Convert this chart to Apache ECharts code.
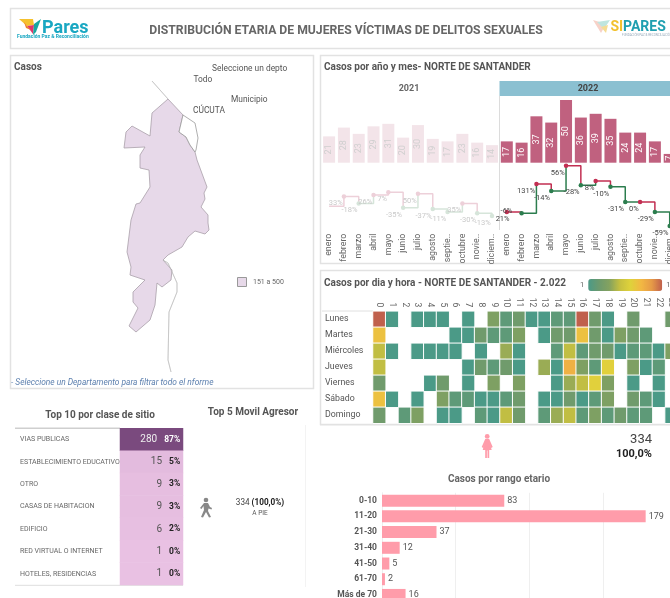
<!DOCTYPE html>
<html><head><meta charset="utf-8">
<style>html,body{margin:0;padding:0;background:#fff;overflow:hidden;width:670px;height:598px}#c{width:700px;height:598px}</style>
<script src="https://cdn.jsdelivr.net/npm/echarts@6/dist/echarts.min.js"></script>
</head><body><div id="c"></div>
<script>
const months = ['enero','febrero','marzo','abril','mayo','junio','julio','agosto','septie..','octubre','novie..','diciem..'];
const cases2021 = [21,28,23,29,31,20,30,19,17,23,16,14];
const cases2022 = [17,16,37,32,50,36,39,35,24,24,17,7];
const pct2021 = [null,33,-18,26,7,-35,50,-37,-11,35,-30,-13];
const pct2022 = [21,-6,131,-14,56,-28,8,-10,-31,0,-29,-59];
const days = ['Lunes','Martes','Miércoles','Jueves','Viernes','Sábado','Domingo'];
const hours = ['0','1','2','3','4','5','6','7','8','9','10','11','12','13','14','15','16','17','18','19','20','21','22','23'];
const heatLunes     = [13,1,0,1,1,1,0,1,0,4,2,3,1,1,2,2,13,3,1,0,3,0,0,3];
const heatMartes    = [9,0,0,0,0,0,1,1,3,2,2,4,0,1,3,3,9,3,1,4,3,2,0,0];
const heatMiercoles = [6,1,0,1,1,1,1,0,1,0,5,1,0,0,2,6,2,3,3,1,2,2,1,4];
const heatJueves    = [6,0,0,0,0,0,0,1,3,2,3,1,0,5,1,10,4,2,8,0,4,1,2,0];
const heatViernes   = [3,0,0,0,1,3,0,1,0,4,0,4,0,0,1,5,6,8,4,0,1,0,1,0];
const heatSabado    = [9,1,0,1,0,4,2,2,1,1,2,3,0,1,1,3,1,2,4,0,3,2,1,0];
const heatDomingo   = [3,0,2,4,0,1,1,0,2,1,6,3,0,2,5,6,2,4,2,3,2,2,0,1];
const sites = ['VIAS PUBLICAS','ESTABLECIMIENTO EDUCATIVO','OTRO','CASAS DE HABITACION','EDIFICIO','RED VIRTUAL O INTERNET','HOTELES, RESIDENCIAS'];
const siteCases = [280,15,9,9,6,1,1];
const sitePct = ['87%','5%','3%','3%','2%','0%','0%'];
const ageRanges = ['0-10','11-20','21-30','31-40','41-50','61-70','Más de 70'];
const ageCases = [83,179,37,12,5,2,16];
// Outline of the department (x, -y)
const deptOutline = [[168,99],[183,115],[179,132],[186,137],[190,145],[195,152],[197,160],[207,187],[204,193],[205,199],[201,207],[208,215],[208,223],[209,230],[205,234],[195,231],[188,237],[182,247],[168,255],[163,260],[172,270],[171,280],[162,287],[157,283],[155,305],[150,320],[136,332],[129,326],[138,308],[133,302],[133,292],[145,280],[130,275],[131,267],[127,252],[131,220],[136,204],[140,203],[150,187],[149,170],[140,168],[140,155],[145,147],[124,148],[126,132],[132,126],[150,136],[152,113]];
const cucutaOutline = [[183,115],[195,123],[198,138],[196,150],[195,152],[190,145],[186,137],[179,132]];
const northLine = [[152,81],[168,99]];
const southLine = [[163,260],[168,263],[177,283],[177,292],[169,312],[168,360],[171,372]];

const FONT = 'Roboto';
const neg = a => a.map(p => [p[0], -p[1]]);
const closed = a => neg(a.concat([a[0]]));
const thin = a => neg(a.concat(a.slice().reverse()));
echarts.registerMap('ns', {type:'FeatureCollection', features:[
  {type:'Feature',properties:{name:'Norte de Santander'},geometry:{type:'Polygon',coordinates:[closed(deptOutline)]}},
  {type:'Feature',properties:{name:'Cucuta'},geometry:{type:'Polygon',coordinates:[closed(cucutaOutline)]}},
  {type:'Feature',properties:{name:'N'},geometry:{type:'Polygon',coordinates:[thin(northLine)]}},
  {type:'Feature',properties:{name:'S'},geometry:{type:'Polygon',coordinates:[thin(southLine)]}}
]});

const chart = echarts.init(document.getElementById('c'));
const heatRows = [heatLunes,heatMartes,heatMiercoles,heatJueves,heatViernes,heatSabado,heatDomingo];
const heatData = [];
heatRows.forEach((r,y)=>r.forEach((v,x)=>{ if(v>0) heatData.push([x,y,v]); }));

const hiddenAxis = (gridIndex,extra)=>Object.assign({gridIndex,show:false},extra||{});
const txt = (x,y,text,o)=>({type:'text',x,y,silent:true,style:Object.assign({text,fontFamily:FONT,fontSize:10,fill:'#555',textVerticalAlign:'middle',textAlign:'left'},o||{})});
const box = (x,y,w,h)=>({type:'rect',silent:true,shape:{x:x+.5,y:y+.5,width:w,height:h},style:{fill:'none',stroke:'#e2e2e2',lineWidth:1.5}});
const poly = (pts,fill)=>({type:'polygon',silent:true,shape:{points:pts},style:{fill}});
const shift = (pts,dx,dy)=>pts.map(p=>[p[0]+dx,p[1]+dy]);
const hline = (x1,y1,x2,y2,stroke,lineWidth)=>({type:'line',silent:true,shape:{x1,y1,x2,y2},style:{stroke,lineWidth:lineWidth||1}});

const series = [];
// bars
[[cases2021,0,'#f3e4e9','#cfcfcf'],[cases2022,1,'#c0617f','#fff']].forEach(([vals,g,col,lab])=>{
  series.push({type:'bar',xAxisIndex:g,yAxisIndex:g,data:vals,barWidth:12,itemStyle:{color:col},silent:true,
    label:{show:true,position:'inside',rotate:90,color:lab,fontSize:9,fontFamily:FONT}});
});
// monthly step line: one piece per month, coloured by the sign of the change
[[cases2021,pct2021,2,'#edd0d9','#d6e5da','#c9c9c9'],[cases2022,pct2022,3,'#c22f52','#2c7d4e','#444']].forEach(([vals,pct,g,up,down,lab])=>{
  vals.forEach((v,i)=>{
    const color = (pct[i]===null||pct[i]>=0)?up:down;
    const pts = i<11?[[i,v],[i+1,vals[i+1]]]:[[i,v]];
    let off=[1,7];
    if(g===3&&i===0) off=[5,7];
    if(g===3&&i===1) off=[-7,-2];
    series.push({type:'line',xAxisIndex:g,yAxisIndex:g,step:'end',silent:true,animation:false,
      data:pts.map((p,k)=>k===0?{value:p,label:{show:pct[i]!==null,formatter:pct[i]+'%',position:'left',distance:0,offset:off,color:lab,fontSize:7.5,fontFamily:FONT}}:{value:p,symbolSize:0}),
      symbol:(pct[i]===null)?'none':'circle',symbolSize:4.5,showSymbol:true,
      itemStyle:{color},lineStyle:{color,width:1.5},z:i+2});
  });
});
// heat table
series.push({type:'heatmap',xAxisIndex:4,yAxisIndex:4,data:heatData,silent:true,itemStyle:{borderColor:'#fff',borderWidth:1},emphasis:{disabled:true}});
const heatIdx = series.length-1;
// site table
series.push({type:'heatmap',xAxisIndex:5,yAxisIndex:5,silent:true,emphasis:{disabled:true},
  data:siteCases.map((v,i)=>({value:[0,i,v],
    label:{show:true,position:'insideRight',distance:3,
      formatter:'{n|'+v+'}{p|'+sitePct[i]+'}',
      rich:{n:{fontFamily:FONT,fontSize:10,color:i===0?'#eee':'#555'},
            p:{fontFamily:FONT,fontSize:8.5,fontWeight:'bold',color:i===0?'#fff':'#222',padding:[0,0,0,7]}}}}))});
const siteIdx = series.length-1;
// age bars
series.push({type:'bar',xAxisIndex:6,yAxisIndex:6,data:ageCases,barWidth:12,silent:true,itemStyle:{color:'#ff9caa'},
  label:{show:true,position:'right',distance:3,color:'#555',fontSize:9,fontFamily:FONT}});
// map
series.push({type:'map',map:'ns',left:124,top:81,width:85,height:291,aspectScale:1,roam:false,silent:true,
  label:{show:false},emphasis:{disabled:true},select:{disabled:true},
  itemStyle:{areaColor:'#fff',borderColor:'#9a9a9a',borderWidth:.8},
  data:[{name:'Norte de Santander',value:300,itemStyle:{areaColor:'#e7d9e9',borderColor:'#a9a0a9'}},
        {name:'N',itemStyle:{borderColor:'#b5b5b5',borderWidth:.5}},
        {name:'S',itemStyle:{borderColor:'#b5b5b5',borderWidth:.5}}]});

const barW = 177.7;
const gridOf = (left,top,width,height)=>({left,top,width,height,outerBoundsMode:'none'});
const monthLabel = {rotate:90,margin:-2,fontSize:8.8,color:'#666',interval:0,fontFamily:FONT};
const option = {
  animation:false,
  textStyle:{fontFamily:FONT},
  grid:[
    gridOf(321.7,100,barW,62.7),
    gridOf(499.4,100,barW,62.7),
    gridOf(321.7,165.7,barW,70),
    gridOf(499.4,165.7,barW,70),
    gridOf(373,311.3,304.8,112),
    gridOf(120,428.3,63,156.7),
    gridOf(382,492.8,294.6,110)
  ],
  xAxis:[
    hiddenAxis(0,{type:'category',data:months}),
    hiddenAxis(1,{type:'category',data:months}),
    {gridIndex:2,type:'category',data:months,axisLine:{show:false},axisTick:{show:false},axisLabel:monthLabel},
    {gridIndex:3,type:'category',data:months,axisLine:{show:false},axisTick:{show:false},axisLabel:monthLabel},
    {gridIndex:4,type:'category',position:'top',data:hours,axisLine:{show:false},axisTick:{show:false},splitLine:{show:false},axisLabel:{rotate:90,margin:4,fontSize:8.5,color:'#666',interval:0,fontFamily:FONT}},
    hiddenAxis(5,{type:'category',data:['casos']}),
    {gridIndex:6,type:'value',min:0,max:200,interval:50,axisLabel:{show:false},axisLine:{show:false},axisTick:{show:false},splitLine:{lineStyle:{color:'#efefef'}}}
  ],
  yAxis:[
    hiddenAxis(0,{type:'value',min:0,max:50}),
    hiddenAxis(1,{type:'value',min:0,max:50}),
    hiddenAxis(2,{type:'value',min:0,max:50}),
    hiddenAxis(3,{type:'value',min:0,max:50}),
    {gridIndex:4,type:'category',inverse:true,data:days,axisLine:{show:false},axisTick:{show:false},splitLine:{show:false},axisLabel:{align:'left',margin:48,fontSize:8.8,color:'#555',fontFamily:FONT}},
    {gridIndex:5,type:'category',inverse:true,data:sites,axisLine:{show:false},axisTick:{show:false},splitLine:{show:false},axisLabel:{align:'left',margin:100,fontSize:7,color:'#666',fontFamily:FONT,interval:0}},
    {gridIndex:6,type:'category',inverse:true,data:ageRanges,axisLine:{lineStyle:{color:'#eee'}},axisTick:{show:false},axisLabel:{margin:5,fontSize:8.5,fontWeight:'bold',color:'#555',interval:0,fontFamily:FONT}}
  ],
  visualMap:[
    {type:'continuous',seriesIndex:heatIdx,dimension:2,min:1,max:13,orient:'horizontal',left:580,top:279,padding:0,itemWidth:12,itemHeight:74,text:['13','1'],textGap:4,calculable:false,hoverLink:false,
      textStyle:{fontSize:7.5,color:'#666',fontFamily:FONT},
      inRange:{color:['#4b9a87','#6c9a6e','#84a25f','#c6c040','#dfd23b','#f2b843','#e69a47','#c0604c']}},
    {type:'continuous',seriesIndex:siteIdx,dimension:2,min:1,max:280,show:false,inRange:{color:['#e9c1e3','#7a4a7e']}}
  ],
  series,
  graphic:[
    box(10,8,662,40), box(10,55,303,333), box(320,55,352,208), box(320,270,352,154),
    hline(320,425.5,670,425.5,'#f0f0f0',1),
    // header
    poly([[19,19],[33,19],[34,25],[27,26]],'#f5c12e'),
    poly([[27,26],[34,25],[33,34]],'#e0356a'),
    poly([[34,24],[41,19],[36,32],[33,35]],'#17a6a0'),
    poly([[24,22],[27,26],[31,30],[26,28]],'#ef7d2a'),
    txt(42,28,'Pares',{fontSize:18,fontWeight:'bold',fill:'#19a7c2'}),
    txt(17,37,'Fundación Paz & Reconciliación',{fontSize:5,fill:'#19a7c2',fontWeight:'bold'}),
    txt(346,30.5,'DISTRIBUCIÓN ETARIA DE MUJERES VÍCTIMAS DE DELITOS SEXUALES',{fontSize:12.2,fontWeight:'bold',fill:'#666',textAlign:'center'}),
    poly([[593,20],[606,24],[601,33]],'#f7d2c8'),
    poly([[597,22],[610,20],[604,29]],'#bfe5df'),
    poly([[601,27],[608,25],[606,33]],'#f5dc94'),
    txt(610.5,27.5,'SI',{fontSize:14,fontWeight:'bold',fill:'#f2c12e'}),
    txt(623,27.5,'PARES',{fontSize:14,fontWeight:'bold',fill:'#1f9fb0'}),
    txt(622,35,'FUNDACIÓN PAZ & RECONCILIACIÓN',{fontSize:3,fill:'#9ab',}),
    // map panel
    txt(14,67,'Casos',{fontSize:10,fontWeight:'bold'}),
    txt(212,69,'Seleccione un depto',{fontSize:8.4}),
    txt(193.5,80,'Todo',{fontSize:8.4}),
    txt(231,100,'Municipio',{fontSize:8.4}),
    txt(193,111,'CÚCUTA',{fontSize:8.4}),
    {type:'rect',silent:true,shape:{x:237.5,y:277.5,width:9,height:9},style:{fill:'#e7d9e9',stroke:'#999'}},
    txt(253,282,'151 a 500',{fontSize:7,fill:'#666'}),
    txt(11,383,'- Seleccione un Departamento para filtrar todo el nforme',{fontSize:8.4,fontStyle:'italic',fill:'#5b7fae'}),
    // year-month panel
    txt(324,67,'Casos por año y mes- NORTE DE SANTANDER',{fontSize:10,fontWeight:'bold'}),
    {type:'rect',silent:true,shape:{x:499.5,y:81,width:172,height:15},style:{fill:'#8bc0d1'}},
    txt(409,88.5,'2021',{fontSize:9,fontWeight:'bold',fill:'#666',textAlign:'center'}),
    txt(588,88.5,'2022',{fontSize:9,fontWeight:'bold',fill:'#444',textAlign:'center'}),
    hline(499.5,96,499.5,230,'#dcdcdc',1),
    // heat panel
    txt(324,283,'Casos por dia y hora - NORTE DE SANTANDER - 2.022',{fontSize:10,fontWeight:'bold'}),
    hline(322,311,373,311,'#e0e0e0',1),
    hline(625,288,625,291,'#222',1),
    // bottom-left
    txt(100,415,'Top 10 por clase de sitio',{fontSize:10,fontWeight:'bold',textAlign:'center'}),
    hline(15,428.3,120,428.3,'#cfcfcf',1.5),
    hline(15,585.3,183,585.3,'#dedede',1),
    txt(253,412,'Top 5 Movil Agresor',{fontSize:10,fontWeight:'bold',textAlign:'center'}),
    hline(305.5,425,305.5,587,'#f3f3f3',1),
    {type:'circle',silent:true,shape:{cx:206,cy:500,r:2.3},style:{fill:'#888'}},
    poly(shift([[4,0],[8,0],[10,4],[12,5],[11.5,6.5],[8.5,5.5],[8,8],[11,14],[9,14.5],[6,9],[3,14.5],[1,14],[4,7],[3.5,3],[1.5,6],[0,5]],200,503),'#888'),
    {type:'text',x:260,y:503,silent:true,style:{rich:{a:{fontFamily:FONT,fontSize:8.2,fill:'#444'},b:{fontFamily:FONT,fontSize:8.2,fontWeight:'bold',fill:'#222'}},text:'{a|334 }{b|(100,0%)}',textAlign:'center',textVerticalAlign:'middle'}},
    txt(260,513,'A PIE',{fontSize:6.5,textAlign:'center'}),
    // right bottom
    {type:'circle',silent:true,shape:{cx:487.2,cy:436.4,r:2.4},style:{fill:'#ff9caa'}},
    poly(shift([[3.5,0],[7.5,0],[11,8],[9.5,9],[8,4],[10,11],[7.5,11],[7.5,19],[5.8,19],[5.8,11.5],[5.2,11.5],[5.2,19],[3.5,19],[3.5,11],[1,11],[3,4],[1.5,9],[0,8]],481.7,439),'#ff9caa'),
    txt(652,440,'334',{fontSize:13,textAlign:'right',fill:'#444'}),
    txt(652,454,'100,0%',{fontSize:11,fontWeight:'bold',textAlign:'right',fill:'#222'}),
    txt(499,479,'Casos por rango etario',{fontSize:10,fontWeight:'bold',textAlign:'center',fill:'#666'})
  ]
};
chart.setOption(option);
</script></body></html>
